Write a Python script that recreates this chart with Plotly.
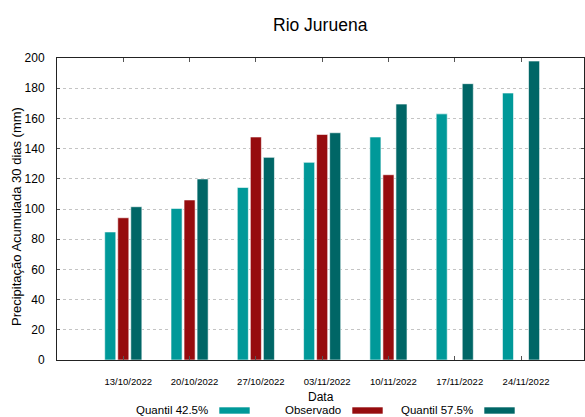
import plotly.graph_objects as go

dates = ["13/10/2022", "20/10/2022", "27/10/2022", "03/11/2022",
         "10/11/2022", "17/11/2022", "24/11/2022"]
quantil_425 = [84.8, 100.4, 114.3, 130.9, 147.7, 163.0, 176.8]
observado = [94.2, 106.0, 147.7, 149.4, 122.7, None, None]
quantil_575 = [101.5, 119.9, 134.2, 150.5, 169.5, 183.0, 198.0]

series_names = ["Quantil 42.5%", "Observado", "Quantil 57.5%"]
series_colors = ["#009999", "#960c0e", "#006666"]
series_values = [quantil_425, observado, quantil_575]

FONT = "Liberation Sans, Arial, sans-serif"

fig = go.Figure()
for name, vals, col in zip(series_names, series_values, series_colors):
    fig.add_trace(go.Bar(
        x=dates, y=vals, name=name,
        marker=dict(color=col, line=dict(color="rgba(255,255,255,0.6)", width=1)),
        showlegend=False,
    ))

W, H = 585, 417
ml, mr, mt, mb = 57, 1, 58, 57
pw = W - ml - mr
ph = H - mt - mb

def px2x(px):
    return (px - ml) / pw

def py2y(py):
    return (H - mb - py) / ph

# legend drawn gnuplot-style: text then swatch
legend_spec = [(210, 219, 250), (343, 352, 383), (475, 484, 515)]
annotations = [
    dict(text="Rio Juruena", x=px2x(320), y=py2y(25), xref="paper", yref="paper",
         showarrow=False, font=dict(family=FONT, size=17.5, color="#000"),
         xanchor="center", yanchor="middle"),
    dict(text="Precipitação Acumulada 30 dias (mm)", x=px2x(16), y=py2y(217),
         xref="paper", yref="paper", showarrow=False, textangle=-90,
         font=dict(family=FONT, size=13, color="#000"),
         xanchor="center", yanchor="middle"),
    dict(text="Data", x=px2x(321), y=py2y(397), xref="paper", yref="paper",
         showarrow=False, font=dict(family=FONT, size=12, color="#000"),
         xanchor="center", yanchor="middle"),
]
shapes = []
for (tx, sx0, sx1), name, col in zip(legend_spec, series_names, series_colors):
    annotations.append(dict(text=name, x=px2x(tx), y=py2y(410), xref="paper", yref="paper",
                            showarrow=False, xanchor="right", yanchor="middle",
                            font=dict(family=FONT, size=11.5, color="#000")))
    shapes.append(dict(type="rect", xref="paper", yref="paper",
                       x0=px2x(sx0), x1=px2x(sx1), y0=py2y(414), y1=py2y(407),
                       fillcolor=col, line=dict(color="rgba(255,255,255,0.6)", width=1)))

fig.update_layout(
    width=W, height=H,
    margin=dict(l=ml, r=mr, t=mt, b=mb, pad=0, autoexpand=False),
    paper_bgcolor="white", plot_bgcolor="white",
    barmode="group", bargap=0.41, bargroupgap=0.15,
    font=dict(family=FONT, size=12, color="#000"),
    annotations=annotations, shapes=shapes,
    xaxis=dict(
        type="category", range=[-1, 6.95],
        showline=True, linecolor="#222", linewidth=1, mirror="ticks",
        ticks="inside", ticklen=4, tickcolor="#555",
        showgrid=False, tickfont=dict(family=FONT, size=9.5, color="#000"),
        ticklabelstandoff=13, ticklabelshift=5,
    ),
    yaxis=dict(
        range=[0, 200], dtick=20, tick0=0,
        showline=True, linecolor="#222", linewidth=1, mirror="ticks",
        ticks="inside", ticklen=3, tickcolor="#555",
        showgrid=True, gridcolor="#c4c4c4", griddash="dot", gridwidth=1,
        zeroline=False, tickfont=dict(family=FONT, size=12, color="#000"),
        ticklabelstandoff=9,
    ),
)

fig.write_html("out.html",
               config={"displayModeBar": False},
               post_script="document.body.style.margin='0';document.body.style.overflow='hidden';")
